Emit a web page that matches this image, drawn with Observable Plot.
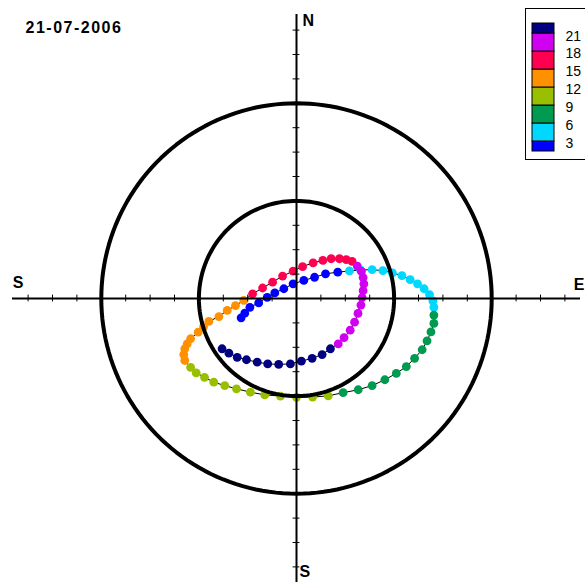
<!DOCTYPE html>
<html>
<head>
<meta charset="utf-8">
<script src="https://cdn.jsdelivr.net/npm/d3@7"></script>
<script src="https://cdn.jsdelivr.net/npm/@observablehq/plot@0.6"></script>
<style>
  html, body { margin: 0; padding: 0; background: #fff; overflow: hidden; }
  #wrap { position: relative; width: 585px; height: 582px; overflow: hidden; }
  #main { position: absolute; left: 0; top: 0; }
  #legendBox { position: absolute; left: 525px; top: 8px; width: 70px; height: 152px; border: 1px solid #000; box-sizing: border-box; background: #fff; }
  #legend { position: absolute; left: 525px; top: 0px; width: 60px; height: 160px; }
  #err { position: absolute; left: 0; top: 420px; font: 10px sans-serif; color: red; }
</style>
</head>
<body>
<div id="wrap"><div id="main"></div><div id="legendBox"></div><div id="legend"></div><div id="err"></div></div>
<script>
// ---- data ----
const title = "21-07-2006";
const stepMinutes = 15;
// east (+) / west (-) component, one value per 15-minute step from 00:00
const eastward = [
  -2.27,-2.12,-1.91,-1.55,-1.20,-0.89,-0.52,-0.14, 0.30, 0.74, 1.19, 1.69,
   2.17, 2.62, 3.10, 3.54, 3.93, 4.32, 4.66, 4.96, 5.23, 5.45, 5.59, 5.63,
   5.63, 5.63, 5.51, 5.35, 5.15, 4.84, 4.50, 4.09, 3.62, 3.10, 2.53, 1.91,
   1.30, 0.66, 0.00,-0.66,-1.30,-1.89,-2.46,-2.94,-3.39,-3.77,-4.11,-4.34,
  -4.58,-4.62,-4.58,-4.48,-4.34,-4.03,-3.81,-3.59,-3.18,-2.84,-2.50,-2.16,
  -1.80,-1.39,-0.98,-0.57,-0.14, 0.25, 0.68, 1.08, 1.42, 1.76, 2.04, 2.28,
   2.49, 2.66, 2.73, 2.76, 2.73, 2.69, 2.64, 2.52, 2.38, 2.20, 1.95, 1.71,
   1.39, 1.05, 0.64, 0.20,-0.25,-0.73,-1.18,-1.61,-2.05,-2.43,-2.77,-3.05
];
// north (+) / south (-) component
const northward = [
  -0.79,-0.60,-0.36,-0.18, 0.05, 0.23, 0.40, 0.60, 0.74, 0.87, 1.01, 1.08,
   1.13, 1.17, 1.18, 1.14, 1.05, 0.94, 0.77, 0.60, 0.40, 0.16,-0.10,-0.36,
  -0.68,-1.02,-1.37,-1.74,-2.10,-2.45,-2.79,-3.07,-3.33,-3.57,-3.74,-3.86,
  -3.99,-4.04,-4.05,-4.00,-3.95,-3.84,-3.70,-3.57,-3.43,-3.23,-3.05,-2.82,
  -2.54,-2.30,-2.06,-1.86,-1.65,-1.38,-1.16,-0.94,-0.74,-0.49,-0.29,-0.08,
   0.19, 0.43, 0.67, 0.92, 1.12, 1.31, 1.46, 1.56, 1.63, 1.63, 1.59, 1.52,
   1.33, 1.11, 0.86, 0.60, 0.32, 0.04,-0.27,-0.61,-0.97,-1.30,-1.60,-1.86,
  -2.06,-2.30,-2.45,-2.57,-2.68,-2.70,-2.68,-2.61,-2.51,-2.41,-2.24,-2.06
];
const bandStarts = [0, 3, 6, 9, 12, 15, 18, 21];
const bandColors = ["#0000ff", "#00d8ff", "#009a50", "#99c000", "#ff9000", "#ff0050", "#d000f0", "#000080"];
const legendTicks = [3, 6, 9, 12, 15, 18, 21];
const ringRadii = [4, 8];
const axisTicks = [-11,-10,-9,-8,-7,-6,-5,-4,-3,-2,-1,1,2,3,4,5,6,7,8,9,10,11];
const compassLabels = ["N", "S", "S", "E"];   // top, bottom, left, right

// ---- derived tables ----
const points = eastward.map((e, i) => ({e, n: northward[i], hour: i * stepMinutes / 60}));
const ringPts = ringRadii.flatMap(r => d3.range(0, 361, 2).map(a => ({
  r, x: r * Math.cos(a * Math.PI / 180), y: r * Math.sin(a * Math.PI / 180)
})));
const bands = bandStarts.map((s, i) => ({lo: Math.max(s, 1.33), hi: Math.min(s + 3, 22.67), color: bandColors[i]}));

// ---- layout ----
const cx = 296, cy = 298, k = 24.4, axisEnd = 11.64;
const font = "'Liberation Sans', Arial, sans-serif";

try {
  const chart = Plot.plot({
    width: 585, height: 582, margin: 0,
    style: {background: "transparent"},
    x: {domain: [-12, 12], range: [cx - 12 * k, cx + 12 * k], axis: null},
    y: {domain: [-12, 12], range: [cy + 12 * k, cy - 12 * k], axis: null},
    color: {type: "threshold", domain: legendTicks, range: bandColors},
    marks: [
      Plot.line(points, {x: "e", y: "n", stroke: "black", strokeWidth: 1}),
      Plot.dot(points, {x: "e", y: "n", fill: "hour", r: 4.4, stroke: "none"}),
      Plot.line(ringPts, {x: "x", y: "y", z: "r", stroke: "black", strokeWidth: 4}),
      Plot.ruleX([0], {y1: -axisEnd, y2: axisEnd, stroke: "black", strokeWidth: 2}),
      Plot.ruleY([0], {x1: -axisEnd, x2: axisEnd, stroke: "black", strokeWidth: 2}),
      Plot.ruleX(axisTicks, {x: d => d, y1: -0.14, y2: 0.14, stroke: "black", strokeWidth: 1}),
      Plot.ruleY(axisTicks, {y: d => d, x1: -0.14, x2: 0.14, stroke: "black", strokeWidth: 1}),
      Plot.text([compassLabels[0]], {x: 0, y: 11.39, dx: 6, textAnchor: "start", fontSize: 16, fontWeight: "bold", fontFamily: font, fill: "black"}),
      Plot.text([compassLabels[1]], {x: 0, y: -11.19, dx: 3, textAnchor: "start", fontSize: 16, fontWeight: "bold", fontFamily: font, fill: "black"}),
      Plot.text([compassLabels[2]], {x: -11.41, y: 0.64, textAnchor: "middle", fontSize: 16, fontWeight: "bold", fontFamily: font, fill: "black"}),
      Plot.text([compassLabels[3]], {x: 11.36, y: 0.57, textAnchor: "start", fontSize: 16, fontWeight: "bold", fontFamily: font, fill: "black"}),
      Plot.text([title], {frameAnchor: "top-left", dx: 25, dy: 21, textAnchor: "start", fontSize: 16, fontWeight: "bold", fontFamily: font, fill: "black"})
    ]
  });
  d3.select(chart).selectAll("text").filter(function() { return this.textContent === title; })
    .attr("letter-spacing", "1.5px");
  document.getElementById("main").append(chart);
} catch (e) { document.getElementById("err").textContent += "main: " + e + " "; }

// ---- legend (vertical colour bar) ----
try {
  const legend = Plot.plot({
    width: 60, height: 160,
    marginTop: 23, marginBottom: 9, marginLeft: 7, marginRight: 31,
    style: {background: "transparent", overflow: "visible"},
    x: {domain: [0, 1], axis: null},
    y: {domain: [1.33, 22.67], axis: null},
    marks: [
      Plot.rect(bands, {x1: 0, x2: 1, y1: "lo", y2: "hi", fill: "color", stroke: "black", strokeWidth: 1}),
      Plot.text(legendTicks, {x: 1, y: d => d, dx: 11, dy: 2.5, textAnchor: "start", fontSize: 14, fontFamily: font, fill: "black"})
    ]
  });
  document.getElementById("legend").append(legend);
} catch (e) { document.getElementById("err").textContent += "legend: " + e + " "; }
</script>
</body>
</html>
